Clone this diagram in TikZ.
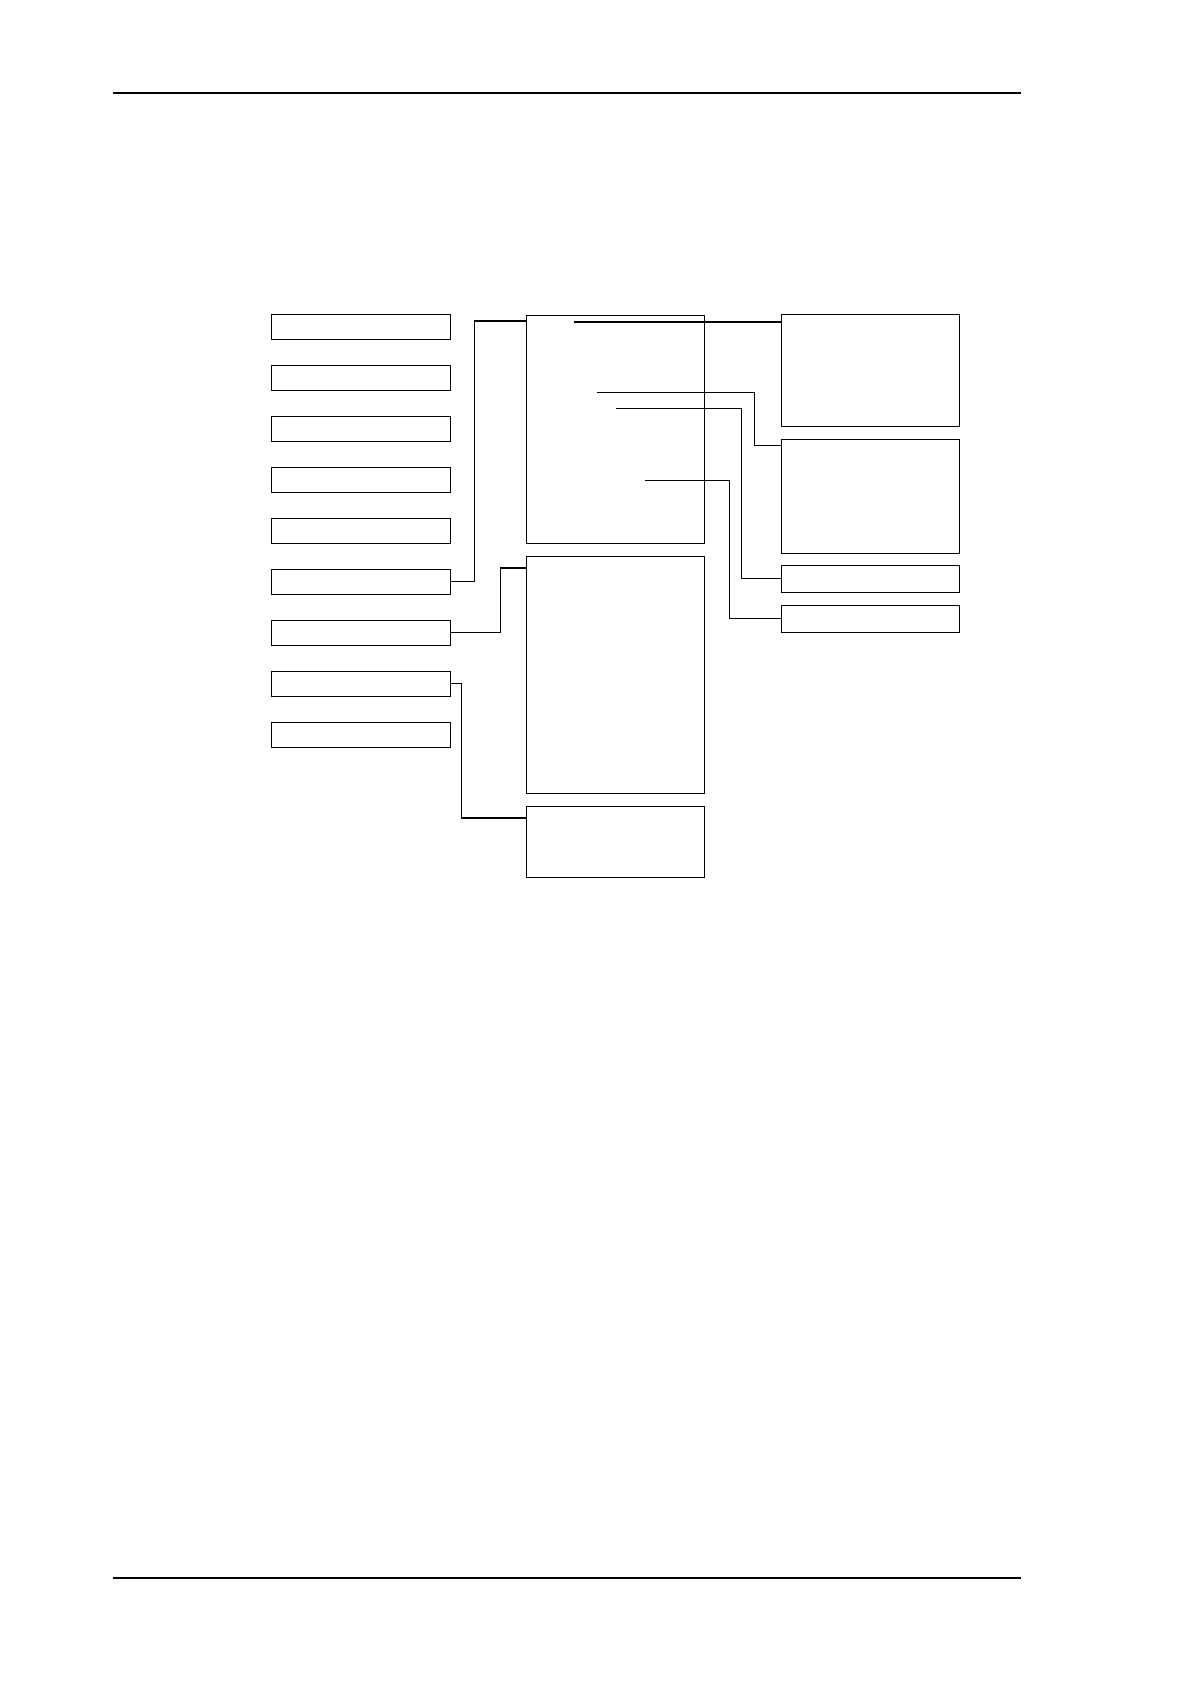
\documentclass[tikz,border=0pt]{standalone}
\usetikzlibrary{positioning}
\tikzset{
    blok/.style={
           rectangle,
           draw=black, line width=1pt,
           inner sep=0pt,
           minimum width=179pt,
           minimum height=25.3pt
           },
    tall/.style={
           rectangle,
           draw=black, line width=1pt,
           inner sep=0pt,
           minimum width=178.4pt
           },
    link/.style={
           line width=0.9pt
           },
    heavy/.style={
           line width=1.8pt
           },
    rule/.style={
           line width=2pt
           }
}
\begin{document}
\begin{tikzpicture}[x=1pt, y=-1pt, node distance=51pt, on grid]
   \useasboundingbox (0,0) rectangle (1191,1684);
   \draw[rule] (113,93) -- (1021,93);
   \draw[rule] (113,1578) -- (1021,1578);
   % left column
   \node[blok] (l1) at (360.5,326.7) {};
   \node[blok] (l2) [below=of l1] {};
   \node[blok] (l3) [below=of l2] {};
   \node[blok] (l4) [below=of l3] {};
   \node[blok] (l5) [below=of l4] {};
   \node[blok] (l6) [below=of l5] {};
   \node[blok] (l7) [below=of l6] {};
   \node[blok] (l8) [below=of l7] {};
   \node[blok] (l9) [below=of l8] {};
   % middle column
   \node[tall, minimum height=228.3pt] (a) at (615.5,429.2) {};
   \node[tall, minimum height=237pt] (b) at (615.5,674.8) {};
   \node[tall, minimum height=71pt] (c) at (615.5,841.8) {};
   % right column
   \node[tall, minimum height=112pt] (r1) at (870.5,370.3) {};
   \node[tall, minimum height=114pt] (r2) at (870.5,496.3) {};
   \node[tall, minimum height=27pt] (r3) at (870.5,578.8) {};
   \node[tall, minimum height=27.3pt] (r4) at (870.5,618.7) {};
   % left links
   \draw[link] (l6.east) -- ++(24,0) |- ([yshift=-6.7pt]a.north west);
   \draw[heavy] ([yshift=-6.7pt]a.north west) -- ++(-52,0);
   \draw[link] (l7.east) -- ++(50,0) |- ([yshift=-12.4pt]b.north west);
   \draw[heavy] ([yshift=-12.4pt]b.north west) -- ++(-26,0);
   \draw[link] (l8.east) -- ++(11.3,0) |- ([yshift=-12.4pt]c.north west);
   \draw[heavy] ([yshift=-12.4pt]c.north west) -- ++(-65,0);
   % right links
   \draw[heavy] ([yshift=-8.4pt]r1.north west) -- ++(-207,0);
   \draw[link] ([yshift=-6.7pt]r2.north west) -- ++(-26,0) -- ++(0,-53) coordinate (k2);
   \draw[heavy] (k2) -- ++(-158.3,0);
   \draw[link] (r3.west) -- ++(-39,0) |- ++(-126.3,-170.5);
   \draw[link] (r4.west) -- ++(-51.3,0) coordinate (k4);
   \draw[heavy] (k4) -- ++(0,-138.4) coordinate (k5);
   \draw[link] (k5) -- ++(-84.7,0);
\end{tikzpicture}
\end{document}
